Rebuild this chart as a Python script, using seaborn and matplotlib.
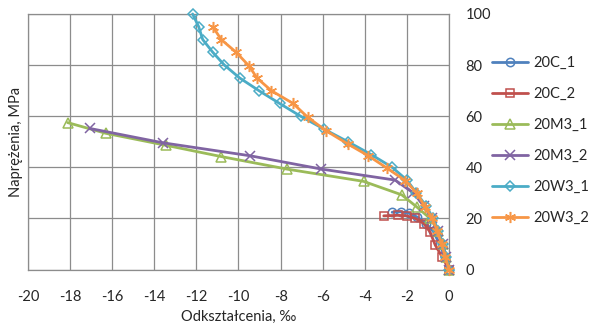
import matplotlib
matplotlib.use("Agg")
import matplotlib.pyplot as plt
import seaborn as sns
import pandas as pd

# Stress-strain curves (strain in per mille, stress in MPa)
c1_strain = [0, -0.2, -0.45, -0.75, -1.1, -1.5, -1.9, -2.3, -2.7]
c1_stress = [0, 5, 10, 15, 18, 20.5, 22, 22.6, 22.4]

c2_strain = [0, -0.33, -0.65, -0.9, -1.2, -1.6, -2.0, -2.4, -3.1]
c2_stress = [0, 5, 9.5, 14.7, 18, 20, 21, 21.2, 21.0]

m1_strain = [0, -0.15, -0.3, -0.5, -0.9, -1.52, -2.24, -4.06, -7.7, -10.82, -13.44, -16.3, -18.12]
m1_stress = [0, 5, 10, 15, 20, 24.4, 29.2, 34.5, 39.3, 44.2, 48.6, 53.3, 57.5]

m2_strain = [0, -0.15, -0.3, -0.5, -0.8, -1.2, -1.7, -2.56, -6.06, -9.44, -13.6, -17.06]
m2_stress = [0, 5, 10, 15, 20, 25, 30, 35.0, 39.3, 44.5, 49.6, 55.2]

w1_strain = [0, -0.15, -0.3, -0.5, -0.75, -1.1, -1.55, -2.0, -2.7, -3.7, -4.8, -5.95,
             -7.05, -8.05, -9.03, -9.95, -10.67, -11.22, -11.7, -11.89, -12.18]
w1_stress = [0, 5, 10, 15, 20, 25, 30, 35, 40, 45, 50, 55,
             60, 65, 70, 75, 80, 85, 90, 95, 100]

w2_strain = [0, -0.18, -0.35, -0.55, -0.8, -1.13, -1.52, -2.08, -2.95, -3.83, -4.78, -5.82,
             -6.7, -7.41, -8.44, -9.13, -9.48, -10.11, -10.82, -11.22]
w2_stress = [0, 5, 10, 15, 20, 24.4, 29.8, 34.8, 39.7, 44.5, 49, 54.2,
             59.5, 65, 70, 75, 79.5, 85, 90, 95]

series_names = ["20C_1", "20C_2", "20M3_1", "20M3_2", "20W3_1", "20W3_2"]
series_data = [(c1_strain, c1_stress), (c2_strain, c2_stress), (m1_strain, m1_stress),
               (m2_strain, m2_stress), (w1_strain, w1_stress), (w2_strain, w2_stress)]
colors = ["#4F81BD", "#C0504D", "#9BBB59", "#8064A2", "#4BACC6", "#F79646"]
markers = ["o", "s", "^", "x", "D", (6, 2, 0)]
msizes = [6, 6, 6.5, 7, 5.5, 8]

x_ticks = list(range(-20, 1, 2))
y_ticks = list(range(0, 101, 20))

sns.set_theme(style="white")
plt.rcParams["font.family"] = ["Lato", "DejaVu Sans"]
plt.rcParams["axes.unicode_minus"] = False

fig = plt.figure(figsize=(5.93, 3.25), dpi=100)
ax = fig.add_axes([28 / 593, 1 - 269.5 / 325, 421 / 593, 255.5 / 325])

grid_col = "#8c8c8c"
text_col = "#262626"

for name, (xs, ys), col, mk, ms in zip(series_names, series_data, colors, markers, msizes):
    df = pd.DataFrame({"strain": xs, "stress": ys})
    sns.lineplot(data=df, x="strain", y="stress", sort=False, ax=ax, color=col,
                 linewidth=2.0, marker=mk, markersize=ms, markerfacecolor="none",
                 markeredgecolor=col, markeredgewidth=1.1, label=name, clip_on=False)

ax.set_xlim(-20, 0)
ax.set_ylim(0, 100)
ax.set_xticks(x_ticks)
ax.set_yticks(y_ticks)
ax.grid(True, color=grid_col, linewidth=0.9)
ax.set_axisbelow(True)
for sp in ax.spines.values():
    sp.set_color(grid_col)
    sp.set_linewidth(0.9)
    sp.set_zorder(0.5)

ax.yaxis.tick_right()
ax.tick_params(axis="y", length=0, pad=12, labelsize=10.5, labelcolor=text_col)
ax.tick_params(axis="x", length=0, pad=15, labelsize=10.5, labelcolor=text_col)
for lab in ax.get_yticklabels():
    lab.set_horizontalalignment("left")

ax.set_xlabel("Odkształcenia, ‰", fontsize=10.5, color=text_col)
ax.xaxis.set_label_coords(0.5, -0.16)
ax.set_ylabel("")
fig.text(16 / 593, 1 - 142 / 325, "Naprężenia, MPa", rotation=90, ha="center",
         va="center", fontsize=10.5, color=text_col)

leg = ax.legend(loc="upper left", bbox_to_anchor=(492 / 593, 1 - 56 / 325),
                bbox_transform=fig.transFigure, frameon=False, fontsize=10.5,
                handlelength=2.5, handletextpad=0.3, labelspacing=1.17,
                borderaxespad=0, borderpad=0)
for t in leg.get_texts():
    t.set_color(text_col)

fig.savefig("out.png", dpi=100)
